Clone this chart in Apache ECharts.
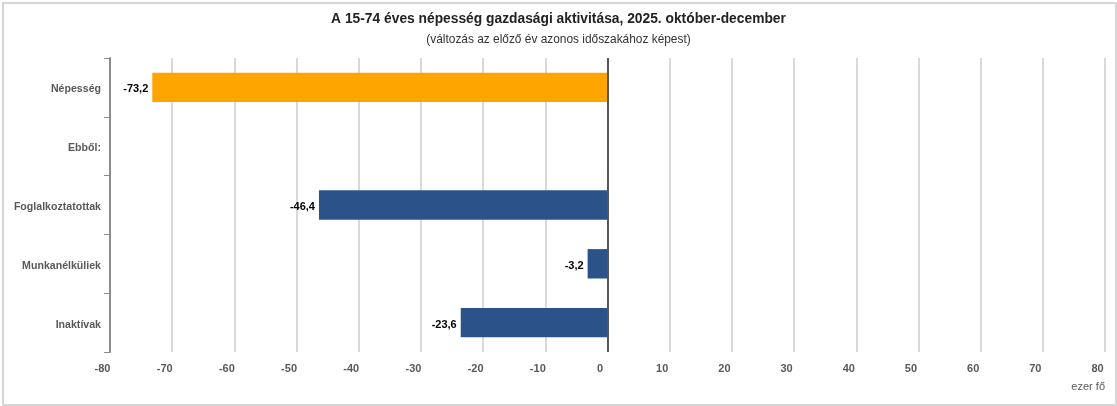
<!DOCTYPE html>
<html>
<head>
<meta charset="utf-8">
<script src="https://cdn.jsdelivr.net/npm/echarts@6/dist/echarts.min.js"></script>
<style>
html,body{margin:0;padding:0;background:#fff;}
#wrap{position:absolute;left:2px;top:2px;width:1111px;height:400px;border:2px solid #d6d6d6;box-sizing:content-box;}
#chart{position:absolute;left:-4px;top:-4px;width:1117px;height:406px;}
</style>
</head>
<body>
<div id="wrap"><div id="chart"></div></div>
<script>
const categories = ['Népesség', 'Ebből:', 'Foglalkoztatottak', 'Munkanélküliek', 'Inaktívak'];
const values = [-73.2, null, -46.4, -3.2, -23.6];
const barColors = ['#FFA500', '#2B5389', '#2B5389', '#2B5389', '#2B5389'];
const titleText = 'A 15-74 éves népesség gazdasági aktivitása, 2025. október-december';
const subtitleText = '(változás az előző év azonos időszakához képest)';
const unitText = 'ezer fő';

const chart = echarts.init(document.getElementById('chart'), null, {renderer: 'canvas'});
const font = 'Liberation Sans, Arial, sans-serif';
chart.setOption({
  animation: false,
  textStyle: {fontFamily: font},
  title: [{
    text: titleText,
    left: 'center',
    top: 12,
    padding: 0,
    textStyle: {fontFamily: font, fontSize: 13.8, fontWeight: 'bold', color: '#222'}
  }, {
    text: subtitleText,
    left: 'center',
    top: 34,
    padding: 0,
    textStyle: {fontFamily: font, fontSize: 11.9, fontWeight: 'normal', color: '#333'}
  }],
  grid: {left: 110, right: 12, top: 58, bottom: 54, containLabel: false},
  xAxis: {
    type: 'value',
    min: -80, max: 80, interval: 10,
    axisLine: {show: false},
    axisTick: {show: false},
    splitLine: {show: true, lineStyle: {color: '#d9d9d9', width: 2}},
    axisLabel: {fontFamily: font, fontSize: 11, color: '#595959', fontWeight: 'bold', margin: 11, padding: [0, 15, 0, 0]}
  },
  yAxis: {
    type: 'category',
    data: categories,
    inverse: true,
    axisLine: {show: true, onZero: false, lineStyle: {color: '#8c8c8c', width: 2}},
    axisTick: {show: true, length: 6, lineStyle: {color: '#8c8c8c', width: 1}},
    axisLabel: {fontFamily: font, fontSize: 10.6, color: '#595959', fontWeight: 'bold', margin: 9, verticalAlign: 'top', lineHeight: 4},
    splitLine: {show: false}
  },
  graphic: [{
    type: 'text', right: 12, top: 381,
    style: {text: unitText, font: '11px ' + font, fill: '#595959'}
  }],
  series: [{
    type: 'bar',
    data: values,
    barWidth: '50%',
    itemStyle: {color: p => barColors[p.dataIndex]},
    label: {
      show: true, position: 'left', distance: 4, offset: [0, 2],
      fontFamily: font, fontSize: 11, fontWeight: 'bold', color: '#000',
      formatter: p => (p.value == null ? '' : String(p.value).replace('.', ','))
    },
    markLine: {
      silent: true, symbol: 'none', label: {show: false},
      lineStyle: {color: '#555', width: 2, type: 'solid'},
      data: [{xAxis: 0}]
    }
  }]
});
</script>
</body>
</html>
